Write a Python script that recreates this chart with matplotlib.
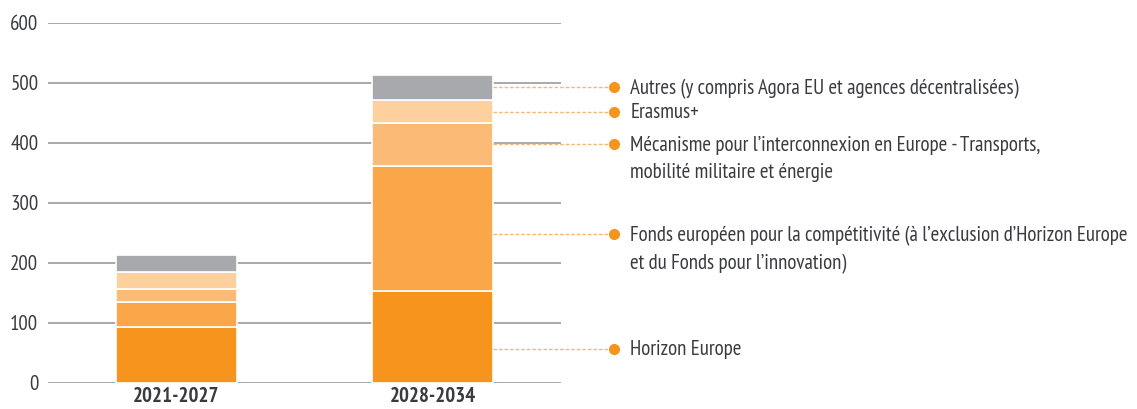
import matplotlib
matplotlib.use("Agg")
import matplotlib.pyplot as plt
from matplotlib import font_manager

periods = ["2021-2027", "2028-2034"]
series_names = [
    "Horizon Europe",
    "Fonds européen pour la compétitivité (à l’exclusion d’Horizon Europe\net du Fonds pour l’innovation)",
    "Mécanisme pour l’interconnexion en Europe - Transports,\nmobilité militaire et énergie",
    "Erasmus+",
    "Autres (y compris Agora EU et agences décentralisées)",
]
horizon = [93, 153]
fonds = [42, 208]
cef = [22, 73]
erasmus = [28, 37]
autres = [28, 43]
series_values = [horizon, fonds, cef, erasmus, autres]
colors = ["#F7941D", "#FAA74A", "#FBBB77", "#FDD09E", "#A7A9AC"]
yticks = [0, 100, 200, 300, 400, 500, 600]
# y (data units) where each callout line meets the 2028-2034 bar
callout_y = [57, 248, 398, 452, 493]

names = {f.name for f in font_manager.fontManager.ttflist}
fam = "DejaVu Sans"
for c in ["PT Sans Narrow", "Roboto Condensed", "Encode Sans Condensed", "Liberation Sans Narrow"]:
    if c in names:
        fam = c
        break
plt.rcParams["font.family"] = [fam, "DejaVu Sans"]
txt = "#3A3B40"

fig = plt.figure(figsize=(11.37, 4.09), dpi=100)
ax = fig.add_axes([48/1137, 26/409, 513/1137, 360/409])
ax.set_xlim(-0.5, 1.5)
ax.set_ylim(0, 600)

for y in yticks:
    ax.axhline(y, color="#9B9B9B", lw=1.2, zorder=0)

x = list(range(len(periods)))
width = 0.47
bottom = [0, 0]
for vals, c in zip(series_values, colors):
    ax.bar(x, vals, width=width, bottom=bottom, color=c, edgecolor="white",
           linewidth=1.2, zorder=2)
    bottom = [b + v for b, v in zip(bottom, vals)]

for s in ax.spines.values():
    s.set_visible(False)
ax.set_yticks(yticks)
ax.set_yticklabels([str(t) for t in yticks], fontsize=15, color=txt)
ax.tick_params(axis="y", length=0, pad=7)
ax.set_xticks(x)
ax.set_xticklabels(periods, fontsize=15, fontweight="bold", color=txt)
ax.tick_params(axis="x", length=0, pad=3)

x_start = 1 + width/2
x_dot = 1.705
x_text = 1.77
for name, cy in zip(series_names, callout_y):
    ax.plot([x_start, x_dot], [cy, cy], ls=(0, (2.5, 1.5)), color="#F9B46E",
            lw=1.0, clip_on=False, zorder=3)
    ax.plot([x_dot], [cy], "o", color="#F7941D", ms=7, clip_on=False, zorder=4)
    ax.annotate(name, xy=(x_text, cy), xytext=(0, 6), textcoords="offset points",
                ha="left", va="top", fontsize=15, color=txt,
                linespacing=1.55, annotation_clip=False)

fig.savefig("out.png", dpi=100)
